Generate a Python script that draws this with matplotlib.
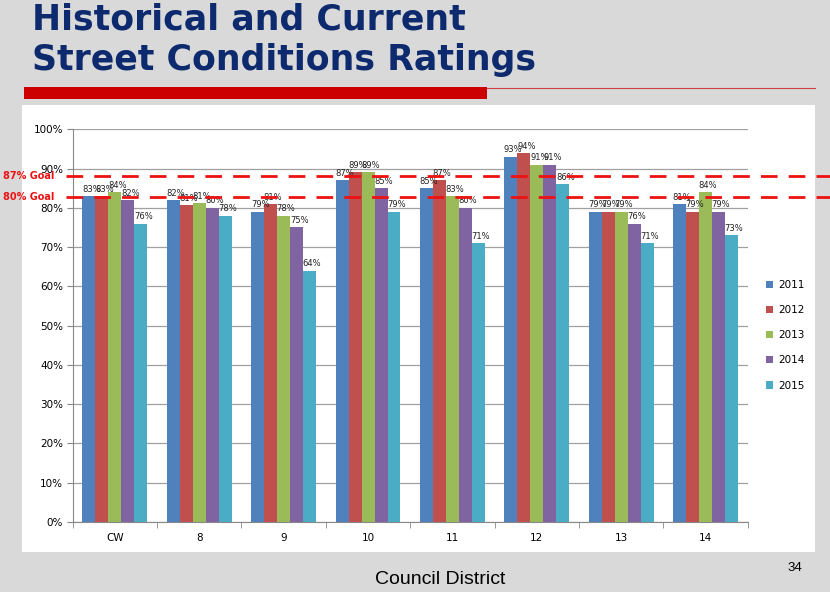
import numpy as np
import matplotlib.pyplot as plt
import matplotlib.transforms as mtransforms
from matplotlib.patches import Rectangle

districts = ["CW", "8", "9", "10", "11", "12", "13", "14"]
years = ["2011", "2012", "2013", "2014", "2015"]
r2011 = [83, 82, 79, 87, 85, 93, 79, 81]
r2012 = [83, 80.6, 81, 89, 87, 94, 79, 79]
r2013 = [84, 81.2, 78, 89, 83, 91, 79, 84]
r2014 = [82, 80, 75, 85, 80, 91, 76, 79]
r2015 = [76, 78, 64, 79, 71, 86, 71, 73]
labels = {
    "2011": ["83%", "82%", "79%", "87%", "85%", "93%", "79%", "81%"],
    "2012": ["83%", "81%", "81%", "89%", "87%", "94%", "79%", "79%"],
    "2013": ["84%", "81%", "78%", "89%", "83%", "91%", "79%", "84%"],
    "2014": ["82%", "80%", "75%", "85%", "80%", "91%", "76%", "79%"],
    "2015": ["76%", "78%", "64%", "79%", "71%", "86%", "71%", "73%"],
}
goal_labels = ["87% Goal", "80% Goal"]
goal_drawn_at = [88.0, 82.7]

colors = ["#4F81BD", "#C0504D", "#9BBB59", "#8064A2", "#4BACC6"]
W, H = 830, 592

fig = plt.figure(figsize=(W / 100, H / 100), dpi=100)
fig.patch.set_facecolor("#d9d9d9")

# white chart panel (behind the axes)
panel = fig.add_axes([22 / W, 1 - 552 / H, (815 - 22) / W, (552 - 105) / H], zorder=-5)
panel.set_facecolor("white")
panel.set_xticks([])
panel.set_yticks([])
for s in panel.spines.values():
    s.set_visible(False)

# title + red rule
fig.text(32 / W, 1 - 20 / H, "Historical and Current", fontsize=25, fontweight="bold",
         color="#0d2a6e", va="center", ha="left", family="DejaVu Sans")
fig.text(32 / W, 1 - 60 / H, "Street Conditions Ratings", fontsize=25, fontweight="bold",
         color="#0d2a6e", va="center", ha="left", family="DejaVu Sans")
fig.patches.append(Rectangle((24 / W, 1 - 99 / H), (487 - 24) / W, 12 / H,
                             transform=fig.transFigure, facecolor="#cc0000",
                             edgecolor="none"))
fig.lines.append(plt.Line2D([487 / W, 815 / W], [1 - 88 / H, 1 - 88 / H],
                            transform=fig.transFigure, color="#d04040", lw=0.8))

ax = fig.add_axes([72.7 / W, 1 - 522 / H, (747.7 - 72.7) / W, (522 - 129.3) / H])
ax.set_facecolor("none")

series = [r2011, r2012, r2013, r2014, r2015]
x = np.arange(len(districts))
bw = 0.154
for i, (yr, vals) in enumerate(zip(years, series)):
    pos = x + (i - 2) * bw
    ax.bar(pos, vals, width=bw, color=colors[i], label=yr, zorder=2)
    for p, v, t in zip(pos, vals, labels[yr]):
        ax.text(p + 0.03, v + 0.6, t, ha="center", va="bottom", fontsize=6,
                color="#222222", zorder=4)

ax.set_xlim(-0.5, len(districts) - 0.5)
ax.set_ylim(0, 100)
ax.set_yticks(np.arange(0, 101, 10))
ax.set_yticklabels([f"{v}%" for v in range(0, 101, 10)], fontsize=7.5)
ax.set_xticks(x)
ax.set_xticklabels(districts, fontsize=7.5)
ax.set_xticks(np.arange(-0.5, len(districts), 1), minor=True)
ax.tick_params(axis="x", which="major", length=0, pad=8)
ax.tick_params(axis="x", which="minor", length=4, color="#888888", direction="out")
ax.tick_params(axis="y", length=4, color="#888888", direction="out", pad=3)
ax.grid(axis="y", color="#a0a0a0", lw=0.9, zorder=1)
for s in ["top", "right"]:
    ax.spines[s].set_visible(False)
ax.spines["left"].set_color("#888888")
ax.spines["bottom"].set_color("#888888")

# goal lines
trans = mtransforms.blended_transform_factory(fig.transFigure, ax.transData)
for lab, g in zip(goal_labels, goal_drawn_at):
    ax.plot([66 / W, 1.0], [g, g], transform=trans, color="#ee1111", lw=2,
            ls=(0, (6, 4)), clip_on=False, zorder=5)
    ax.text(3 / W, g, lab, transform=trans, color="#ee1111", fontsize=7,
            fontweight="bold", va="center", ha="left")

leg = fig.legend(loc="upper left", bbox_to_anchor=(762 / W, 1 - 276 / H), frameon=False,
                 fontsize=7.5, handlelength=0.7, handleheight=0.7, labelspacing=1.45,
                 handletextpad=0.5, borderaxespad=0)

fig.text(440 / W, 1 - 579 / H, "Council District", fontsize=14, ha="center", va="center",
         family="Liberation Sans")
fig.text(795 / W, 1 - 568 / H, "34", fontsize=9.5, ha="center", va="center",
         family="Liberation Sans")

fig.savefig("out.png", dpi=100, facecolor=fig.get_facecolor())
